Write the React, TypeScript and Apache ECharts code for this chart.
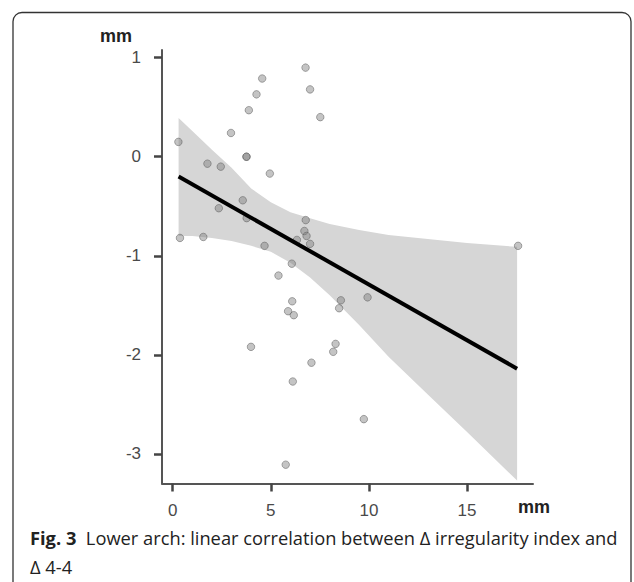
import React, { useEffect, useRef } from "react";
import * as echarts from "echarts";

// Scatter points (x: Δ 4-4 mm, y: Δ irregularity index mm)
const pointX = [0.29, 0.37, 1.56, 1.77, 2.45, 2.97, 2.35, 3.57, 3.76, 3.76, 3.88, 4.27, 4.56, 4.95, 3.77, 4.68, 5.39, 6.07, 6.77, 7.0, 7.52, 6.78, 6.71, 6.82, 7.0, 6.33, 6.09, 5.88, 6.17, 8.57, 8.48, 3.99, 8.3, 8.18, 7.07, 6.12, 5.76, 17.6, 9.93, 9.74];
const pointY = [0.15, -0.82, -0.81, -0.07, -0.1, 0.24, -0.52, -0.44, 0.0, 0.0, 0.47, 0.63, 0.79, -0.17, -0.62, -0.9, -1.2, -1.08, 0.9, 0.68, 0.4, -0.64, -0.75, -0.8, -0.88, -0.84, -1.46, -1.56, -1.6, -1.45, -1.53, -1.92, -1.89, -1.97, -2.08, -2.27, -3.11, -0.9, -1.42, -2.65];

// Regression line end points
const lineX = [0.3, 17.55];
const lineY = [-0.2, -2.14];

// Confidence band
const bandX = [0.3, 1, 2, 3, 4, 5, 6, 7, 8, 9.5, 11, 13, 15, 17.55];
const bandUpper = [0.39, 0.26, 0.07, -0.11, -0.32, -0.46, -0.56, -0.62, -0.68, -0.74, -0.79, -0.83, -0.87, -0.91];
const bandLower = [-0.8, -0.8, -0.82, -0.85, -0.9, -0.96, -1.07, -1.22, -1.4, -1.7, -2.02, -2.4, -2.78, -3.27];

// Tick labels
const xTicks = [0, 5, 10, 15];
const yTicks = [-3, -2, -1, 0, 1];

export default function App() {
  const ref = useRef<HTMLDivElement>(null);
  useEffect(() => {
    if (!ref.current) return;
    const chart = echarts.init(ref.current, null, { renderer: "svg" });
    const labelFont = "'Liberation Sans', Arial, sans-serif";
    const capFont = "'Open Sans', sans-serif";
    chart.setOption({
      animation: false,
      backgroundColor: "#ffffff",
      grid: { left: 162, right: 101, top: 50, bottom: 98.5, containLabel: false },
      xAxis: {
        type: "value",
        min: -0.545,
        max: 18.36,
        splitLine: { show: false },
        axisLine: { show: true, onZero: false, lineStyle: { color: "#555", width: 2 } },
        axisTick: { show: true, customValues: xTicks, length: 8, lineStyle: { color: "#444", width: 2.5 } },
        axisLabel: { customValues: xTicks, margin: 18, fontSize: 17, color: "#4a4a4a", fontFamily: labelFont },
      },
      yAxis: {
        type: "value",
        min: -3.3,
        max: 1.078,
        splitLine: { show: false },
        axisLine: { show: true, onZero: false, lineStyle: { color: "#555", width: 2 } },
        axisTick: { show: true, customValues: yTicks, length: 8, lineStyle: { color: "#444", width: 2.5 } },
        axisLabel: { customValues: yTicks, margin: 21, fontSize: 17, color: "#4a4a4a", fontFamily: labelFont },
      },
      series: [
        {
          type: "custom",
          silent: true,
          z: 1,
          data: [[0, 0]],
          renderItem: (_params: any, api: any) => {
            const pts: number[][] = [];
            for (let i = 0; i < bandX.length; i++) pts.push(api.coord([bandX[i], bandUpper[i]]));
            for (let i = bandX.length - 1; i >= 0; i--) pts.push(api.coord([bandX[i], bandLower[i]]));
            return { type: "polygon", shape: { points: pts }, style: { fill: "#d6d6d6" } };
          },
        },
        {
          type: "scatter",
          z: 2,
          symbolSize: 7.5,
          itemStyle: { color: "rgba(120,120,120,0.55)", borderColor: "rgba(85,85,85,0.6)", borderWidth: 1 },
          data: pointX.map((x, i) => [x, pointY[i]]),
        },
        {
          type: "line",
          z: 3,
          symbol: "none",
          lineStyle: { color: "#000", width: 4 },
          data: lineX.map((x, i) => [x, lineY[i]]),
        },
      ],
      graphic: [
        {
          type: "rect",
          silent: true,
          shape: { x: 13, y: 12.5, width: 618, height: 640, r: 9 },
          style: { fill: "none", stroke: "#333", lineWidth: 1.3 },
        },
        {
          type: "text",
          x: 116,
          y: 36,
          style: { text: "mm", fontSize: 18, fontWeight: "bold", fontFamily: labelFont, fill: "#222", align: "center", verticalAlign: "middle" },
        },
        {
          type: "text",
          x: 534,
          y: 507,
          style: { text: "mm", fontSize: 18, fontWeight: "bold", fontFamily: labelFont, fill: "#222", align: "center", verticalAlign: "middle" },
        },
        {
          type: "text",
          x: 30,
          y: 537,
          style: {
            text: "{b|Fig. 3}  Lower arch: linear correlation between Δ irregularity index and",
            fontSize: 18.3,
            fontFamily: capFont,
            fill: "#222",
            verticalAlign: "middle",
            rich: { b: { fontWeight: "bold", fontSize: 18.3, fontFamily: capFont, fill: "#222" } },
          },
        },
        {
          type: "text",
          x: 30,
          y: 566,
          style: { text: "Δ 4-4", fontSize: 18.3, fontFamily: capFont, fill: "#222", verticalAlign: "middle" },
        },
      ],
    });
    return () => chart.dispose();
  }, []);
  return <div ref={ref} style={{ position: "absolute", left: 0, top: 0, width: 634, height: 582 }} />;
}
